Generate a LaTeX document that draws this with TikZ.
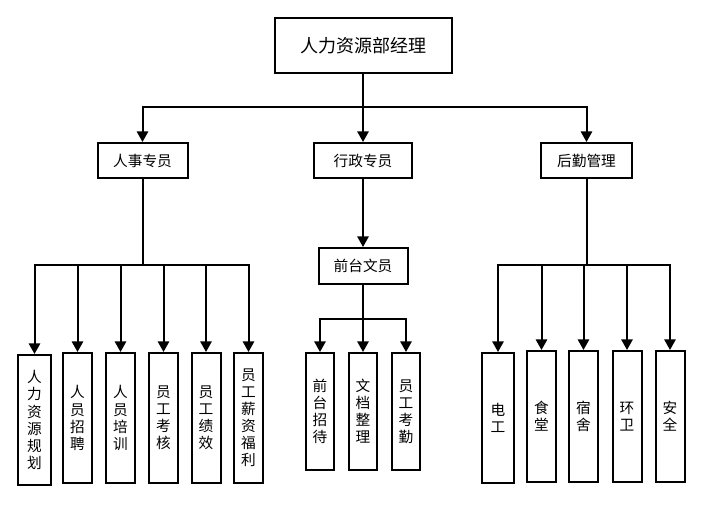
\documentclass[tikz,border=0pt]{standalone}
\usepackage{fontspec}
\setmainfont{Noto Sans CJK SC}
\usetikzlibrary{arrows.meta}
\begin{document}
\begin{tikzpicture}[x=0.75pt,y=-0.75pt,
  box/.style={draw,line width=1.5pt,rectangle,inner sep=0pt,align=center},
  vbox/.style={box,font=\fontsize{11pt}{12.8pt}\selectfont,minimum width=21.75pt},
  hbox/.style={box,font=\fontsize{11pt}{13pt}\selectfont,minimum height=26.25pt},
  arr/.style={line width=1.5pt,-{Triangle[width=8.5pt,length=8pt]}}]
\useasboundingbox (0,0) rectangle (703,504);
\fill[white] (0,0) rectangle (703,504);
% top
\node[box,font=\fontsize{13.5pt}{15pt}\selectfont,minimum width=132.75pt,minimum height=41.25pt] (top) at (363,45.5) {人力资源部经理};
% level 2
\node[hbox,minimum width=67.5pt] (rs) at (142.5,160.5) {人事专员};
\node[hbox,minimum width=73.5pt] (xz) at (363,160.5) {行政专员};
\node[hbox,minimum width=68.25pt] (hq) at (586.5,160.5) {后勤管理};
\node[hbox,minimum width=66.75pt,minimum height=27pt] (qt) at (363,266) {前台文员};
% left children
\node[vbox,minimum width=24.75pt,minimum height=97.5pt] (l1) at (34.5,420) {人\\力\\资\\源\\规\\划};
\node[vbox,minimum height=97.5pt] (l2) at (77.5,418) {人\\员\\招\\聘};
\node[vbox,minimum height=97.5pt] (l3) at (120.5,418) {人\\员\\培\\训};
\node[vbox,minimum height=97.5pt] (l4) at (163.5,418) {员\\工\\考\\核};
\node[vbox,minimum height=97.5pt] (l5) at (206,418) {员\\工\\绩\\效};
\node[vbox,minimum height=97.5pt] (l6) at (248.5,418) {员\\工\\薪\\资\\福\\利};
% middle children
\node[vbox,minimum width=21pt,minimum height=87.75pt] (m1) at (320,411.5) {前\\台\\招\\待};
\node[vbox,minimum width=21pt,minimum height=87.75pt] (m2) at (363,411.5) {文\\档\\整\\理};
\node[vbox,minimum width=21pt,minimum height=87.75pt] (m3) at (406,411.5) {员\\工\\考\\勤};
% right children
\node[vbox,minimum width=24pt,minimum height=97.5pt] (r1) at (498,418) {电\\工};
\node[vbox,minimum height=98.25pt] (r2) at (541.5,416.5) {食\\堂};
\node[vbox,minimum height=98.25pt] (r3) at (583.5,416.5) {宿\\舍};
\node[vbox,minimum height=98.25pt] (r4) at (627,416.5) {环\\卫};
\node[vbox,minimum height=98.25pt] (r5) at (670,416.5) {安\\全};
% connectors
\foreach \c in {rs,xz,hq}
  \draw[arr] (top.south) -- (top.south |- 0,107) -| (\c.north);
\foreach \c in {l1,l2,l3,l4,l5,l6}
  \draw[arr] (rs.south) -- (rs.south |- 0,265) -| (\c.north);
\draw[arr] (xz.south) -- (qt.north);
\foreach \c in {m1,m2,m3}
  \draw[arr] (qt.south) -- (qt.south |- 0,319) -| (\c.north);
\foreach \c in {r1,r2,r3,r4,r5}
  \draw[arr] (hq.south) -- (hq.south |- 0,265) -| (\c.north);
\end{tikzpicture}
\end{document}
